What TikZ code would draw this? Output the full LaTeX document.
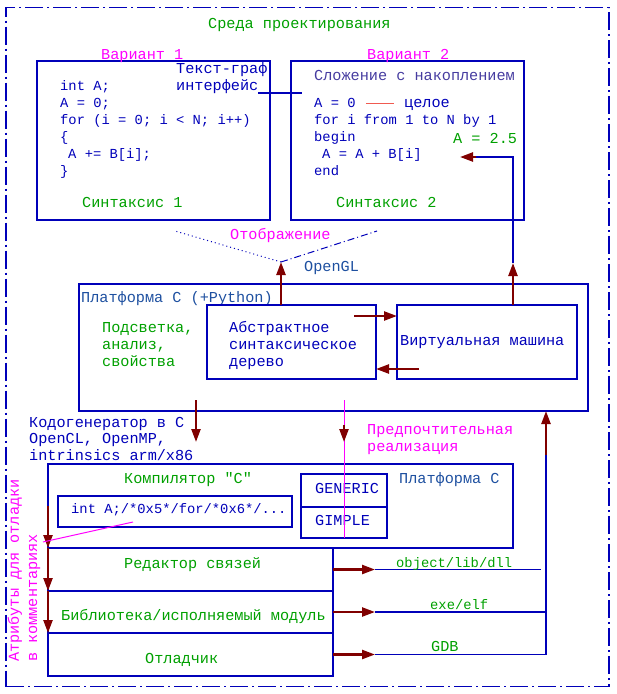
\documentclass[tikz,border=0pt]{standalone}
\usepackage{fontspec}
\newfontfamily\cadfont{Liberation Mono}
\usetikzlibrary{arrows.meta}

\definecolor{cadblue}{RGB}{0,0,185}
\definecolor{cadsteel}{RGB}{30,80,160}
\definecolor{cadpurple}{RGB}{70,60,160}
\definecolor{cadgreen}{RGB}{0,160,0}
\definecolor{cadmag}{RGB}{255,0,255}
\definecolor{caddark}{RGB}{128,0,0}
\definecolor{cadred}{RGB}{240,90,80}

\tikzset{
  box/.style={draw=cadblue,line width=1.1pt,anchor=north west,inner sep=0pt,outer sep=0pt},
  thickbox/.style={box,line width=2.6pt},
  lbl/.style={anchor=base west,inner sep=0pt,font=\cadfont\fontsize{15.2}{17}\selectfont},
  code/.style={lbl,text=cadblue,font=\cadfont\fontsize{13.8}{17}\selectfont},
  thinline/.style={draw=cadblue,line width=1.1pt},
  magline/.style={draw=cadmag,line width=1pt},
  redarrow/.style={draw=caddark,line width=2.3pt,-{Triangle[length=13pt,width=9pt]}},
}

\begin{document}
\begin{tikzpicture}[x=1pt,y=-1pt]
      \useasboundingbox (0,0) rectangle (617,694);
      \node[box,dash pattern=on 18pt off 4pt on 2pt off 4pt,minimum width=603pt,minimum height=679pt] (env) at (6,7.5) {};
      \node[lbl,text=cadgreen] (envlbl) at (208,28) {Среда проектирования};

      \node[box,minimum width=233pt,minimum height=159pt] (var1) at (37,61) {};
      \node[lbl,text=cadmag] (var1lbl) at (101,59) {Вариант 1};
      \node[code] (c1a) at (60,90) {int A;};
      \node[code] (c1b) at (60,107) {A = 0;};
      \node[code] (c1c) at (60,124) {for (i = 0; i < N; i++)};
      \node[code] (c1d) at (60,141) {\{};
      \node[code] (c1e) at (68,158) {A += B[i];};
      \node[code] (c1f) at (60,175) {\}};
      \node[lbl,text=cadgreen] (syn1) at (82,207) {Синтаксис 1};
      \node[lbl,text=cadblue] (tg) at (176,73) {Текст-граф};
      \node[lbl,text=cadblue] (iface) at (176,90) {интерфейс};

      \node[box,minimum width=233pt,minimum height=159pt] (var2) at (291,61) {};
      \node[lbl,text=cadmag] (var2lbl) at (367,59) {Вариант 2};
      \node[lbl,text=cadpurple] (accum) at (314,80) {Сложение с накоплением};
      \node[code] (azero) at (314,107) {A = 0};
      \node[lbl,text=cadblue] (celoe) at (404,107) {целое};
      \node[code] (c2b) at (314,124) {for i from 1 to N by 1};
      \node[code] (c2c) at (314,141) {begin};
      \node[code] (c2d) at (322,158) {A = A + B[i]};
      \node[code] (c2e) at (314,175) {end};
      \node[lbl,text=cadgreen] (a25) at (453,143) {A = 2.5};
      \node[lbl,text=cadgreen] (syn2) at (336,207) {Синтаксис 2};
      \coordinate (ifaceend) at (302,93);
      \draw[thinline] ([yshift=-3pt]iface.base east) -- (ifaceend);
      \draw[cadred,line width=1pt] ([xshift=10pt,yshift=4pt]azero.base east) -- ([xshift=-10pt,yshift=4pt]celoe.base west);

      \node[lbl,text=cadmag] (maplbl) at (230,239) {Отображение};
      \node[lbl,text=cadsteel] (ogllbl) at (304,271) {OpenGL};
      \coordinate (ogl) at (281,262);
      \coordinate (mapL) at (175,231);
      \coordinate (mapR) at (377,231);
      \draw[cadblue,line width=1pt,dash pattern=on 1pt off 3pt] (ogl) -- (mapL);
      \draw[cadblue,line width=1pt,dash pattern=on 7pt off 3pt on 1pt off 3pt] (ogl) -- (mapR);

      \node[box,minimum width=509pt,minimum height=127pt] (plat) at (79,284) {};
      \node[lbl,text=cadsteel] (platlbl) at (81,302) {Платформа C (+Python)};
      \node[lbl,text=cadgreen] (hl1) at (102,332) {Подсветка,};
      \node[lbl,text=cadgreen] (hl2) at (102,349) {анализ,};
      \node[lbl,text=cadgreen] (hl3) at (102,366) {свойства};
      \node[thickbox,minimum width=169pt,minimum height=74pt] (ast) at (207,305) {};
      \node[lbl,text=cadblue] (ast1) at (229,332) {Абстрактное};
      \node[lbl,text=cadblue] (ast2) at (229,349) {синтаксическое};
      \node[lbl,text=cadblue] (ast3) at (229,366) {дерево};
      \node[thickbox,minimum width=180pt,minimum height=74pt] (vm) at (397,305) {};
      \node[lbl,text=cadblue] (vmlbl) at (400,345) {Виртуальная машина};

      \draw[redarrow] ([xshift=-22pt,yshift=-11pt]ast.north east) -- ([yshift=-11pt]vm.north west);
      \draw[redarrow] ([xshift=22pt,yshift=10pt]vm.south west) -- ([yshift=10pt]ast.south east);
      \draw[redarrow] ([xshift=74pt]ast.north west) -- (ogl);
      \coordinate (vmup) at (513,263);
      \coordinate (fbA) at (476,157);
      \coordinate (fbtip) at (460,157);
      \draw[redarrow] ([xshift=116pt]vm.north west) -- (vmup);
      \draw[thinline] (vmup) |- (fbA);
      \draw[redarrow] (fbA) -- (fbtip);

      \node[lbl,text=cadblue] (cg1) at (29,427) {Кодогенератор в С};
      \node[lbl,text=cadblue] (cg2) at (29,443) {OpenCL, OpenMP,};
      \node[lbl,text=cadblue] (cg3) at (29,460) {intrinsics arm/x86};
      \node[lbl,text=cadmag] (pref1) at (367,434) {Предпочтительная};
      \node[lbl,text=cadmag] (pref2) at (367,451) {реализация};

      \node[box,minimum width=465pt,minimum height=84pt] (comp) at (48,464) {};
      \node[lbl,text=cadgreen] (complbl) at (124,483) {Компилятор "С"};
      \node[lbl,text=cadsteel] (cplat) at (399,483) {Платформа С};
      \node[box,minimum width=234pt,minimum height=31pt] (gen) at (58,496) {};
      \node[code] (genlbl) at (71,513) {int A;/*0x5*/for/*0x6*/...};
      \node[box,minimum width=86pt,minimum height=33pt] (generic) at (301,474) {};
      \node[box,minimum width=86pt,minimum height=31pt] (gimple) at (301,507) {};
      \node[lbl,text=cadblue] (genericlbl) at (315,493) {GENERIC};
      \node[lbl,text=cadblue] (gimplelbl) at (315,525) {GIMPLE};

      \coordinate (cgtip) at (196,442);
      \draw[redarrow] ([xshift=117pt,yshift=11pt]plat.south west) -- (cgtip);
      \coordinate (prefA) at (344,425);
      \coordinate (prefB) at (344,442);
      \draw[magline] ([xshift=265pt,yshift=11pt]plat.south west) -- ([xshift=43pt]gimple.south west);
      \draw[redarrow] (prefA) -- (prefB);

      \node[box,minimum width=285pt,minimum height=43pt] (link) at (48,548) {};
      \node[box,minimum width=285pt,minimum height=42pt] (lib) at (48,591) {};
      \node[box,minimum width=285pt,minimum height=43pt] (dbg) at (48,633) {};
      \node[lbl,text=cadgreen] (linklbl) at (124,568) {Редактор связей};
      \node[lbl,text=cadgreen] (liblbl) at (61,620) {Библиотека/исполняемый модуль};
      \node[lbl,text=cadgreen] (dbglbl) at (145,663) {Отладчик};

      \coordinate (objtip) at (375,569.5);
      \coordinate (objend) at (541,569.5);
      \coordinate (exetip) at (375,612);
      \coordinate (exeend) at (546,612);
      \coordinate (gdbtip) at (375,654.5);
      \coordinate (gdbend) at (546,654.5);
      \coordinate (ret) at (546,455);
      \draw[redarrow] (link.east) -- (objtip);
      \draw[redarrow] (lib.east) -- (exetip);
      \draw[redarrow] (dbg.east) -- (gdbtip);
      \draw[thinline] (objtip) -- (objend);
      \draw[thinline] (exetip) -- (exeend);
      \draw[thinline] (gdbtip) -- (gdbend) -- (ret);
      \draw[redarrow] (ret) -- ([xshift=467pt]plat.south west);
      \node[code,text=cadgreen] (objlbl) at (396,567) {object/lib/dll};
      \node[code,text=cadgreen] (exelbl) at (430,609) {exe/elf};
      \node[lbl,text=cadgreen] (gdblbl) at (431,651) {GDB};

      \coordinate (attrtop) at (48,506);
      \draw[redarrow] (attrtop) -- (link.north west);
      \draw[redarrow] (link.north west) -- (lib.north west);
      \draw[redarrow] (lib.north west) -- (dbg.north west);
      \coordinate (attrA) at (133,522);
      \coordinate (attrB) at (43,542);
      \draw[magline] (attrA) -- (attrB);
      \node[lbl,text=cadmag,rotate=90] (attr1) at (19,662) {Атрибуты для отладки};
      \node[lbl,text=cadmag,rotate=90] (attr2) at (37,662) {в комментариях};
    \end{tikzpicture}
\end{document}
